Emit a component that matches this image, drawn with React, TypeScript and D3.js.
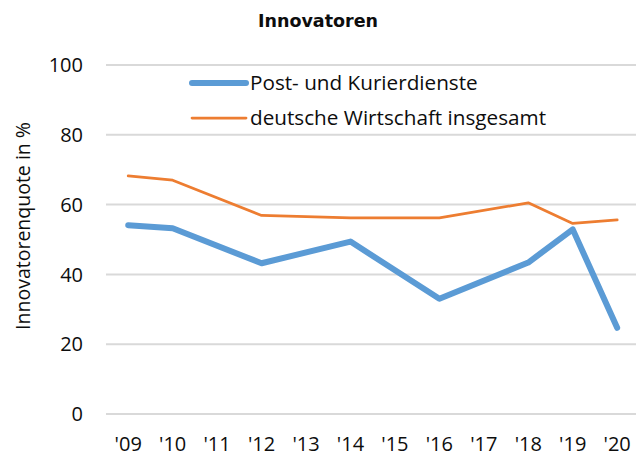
import React from "react";
import * as d3 from "d3";

const years = ["'09", "'10", "'11", "'12", "'13", "'14", "'15", "'16", "'17", "'18", "'19", "'20"];
const postValues: (number | null)[] = [54.1, 53.2, null, 43.2, null, 49.4, null, 33.0, null, 43.4, 52.9, 24.7];
const gesamtValues: (number | null)[] = [68.2, 67.0, null, 56.9, null, 56.2, null, 56.2, null, 60.5, 54.6, 55.6];
const yTicks = [0, 20, 40, 60, 80, 100];
const seriesNames = ["Post- und Kurierdienste", "deutsche Wirtschaft insgesamt"];

const W = 636;
const H = 456;
const FONT = "'Open Sans', 'DejaVu Sans', sans-serif";

export default function App() {
  const x = d3.scaleBand<string>().domain(years).range([106, 106 + 44.45 * 12]);
  const y = d3.scaleLinear().domain([0, 100]).range([414, 65]);
  const cx = (d: string) => (x(d) as number) + x.bandwidth() / 2;

  const mk = (vals: (number | null)[]) => {
    const pts = years
      .map((yr, i) => ({ yr, v: vals[i] }))
      .filter((p) => p.v !== null) as { yr: string; v: number }[];
    return d3
      .line<{ yr: string; v: number }>()
      .x((p) => cx(p.yr))
      .y((p) => y(p.v))(pts) as string;
  };

  const series = [
    { name: seriesNames[0], vals: postValues, color: "#5B9BD5", width: 6 },
    { name: seriesNames[1], vals: gesamtValues, color: "#ED7D31", width: 2.75 },
  ];

  return (
    <svg
      width={W}
      height={H}
      style={{ position: "absolute", left: 0, top: 0, background: "#fff" }}
      fontFamily={FONT}
    >
      <rect width={W} height={H} fill="#fff" />
      <text
        x={318}
        y={27}
        textAnchor="middle"
        fontWeight="bold"
        fontSize={17.5}
        fontFamily="'DejaVu Sans', Verdana, sans-serif"
        fill="#0d0d0d"
      >
        Innovatoren
      </text>
      {yTicks.map((t) => (
        <g key={t}>
          <line x1={106} x2={W} y1={y(t)} y2={y(t)} stroke="#d9d9d9" strokeWidth={2} />
          <text x={83} y={y(t)} dy="0.36em" textAnchor="end" fontSize={20} fill="#0d0d0d">
            {t}
          </text>
        </g>
      ))}
      {years.map((yr) => (
        <text key={yr} x={cx(yr)} y={451} textAnchor="middle" fontSize={20} fill="#0d0d0d">
          {yr}
        </text>
      ))}
      <text
        transform={`translate(30,226) rotate(-90)`}
        textAnchor="middle"
        fontSize={19.5}
        fill="#0d0d0d"
      >
        Innovatorenquote in %
      </text>
      {series.map((s) => (
        <path
          key={s.name}
          d={mk(s.vals)}
          fill="none"
          stroke={s.color}
          strokeWidth={s.width}
          strokeLinejoin="round"
          strokeLinecap="round"
        />
      ))}
      {series.map((s, i) => (
        <g key={s.name} transform={`translate(0,${83 + i * 35})`}>
          <line x1={192} x2={246} y1={0} y2={0} stroke={s.color} strokeWidth={s.width} strokeLinecap="round" />
          <text x={250} y={0} dy="0.36em" fontSize={20.7} fill="#0d0d0d">
            {s.name}
          </text>
        </g>
      ))}
    </svg>
  );
}
